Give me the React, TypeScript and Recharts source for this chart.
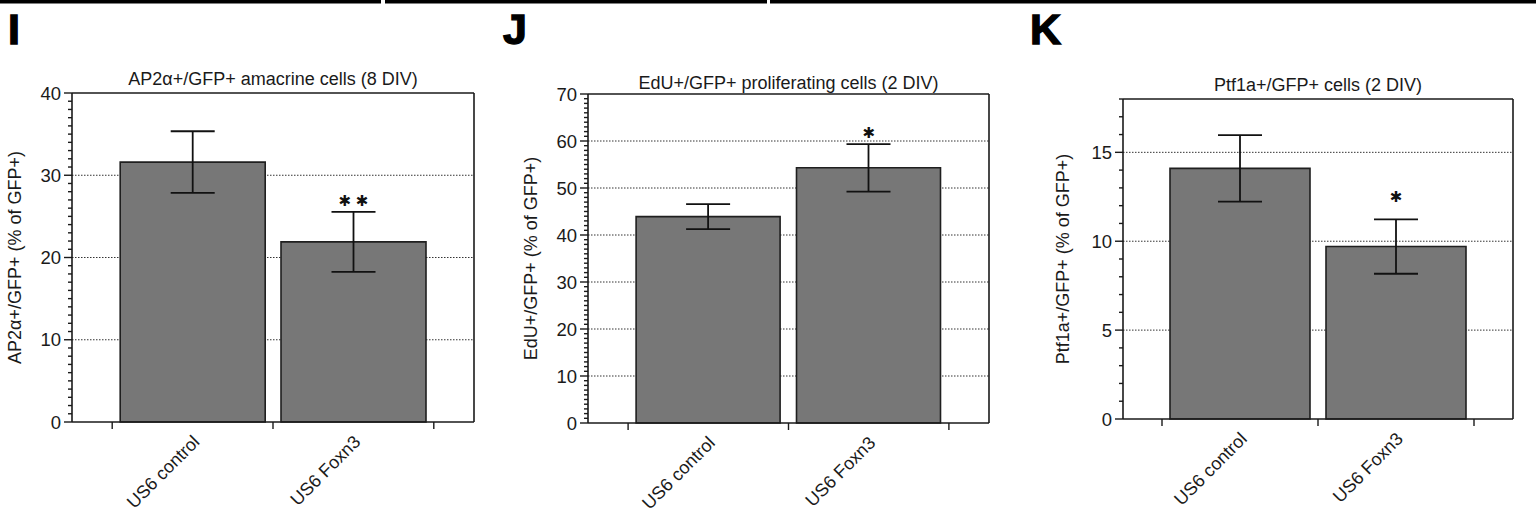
import React from 'react';
import { ComposedChart, Bar, XAxis, YAxis, CartesianGrid, ErrorBar, ReferenceLine, LabelList, Scatter } from 'recharts';

// shared categories, x positions of the two bars, and the boundary ticks between them
const categories = ['US6 control', 'US6 Foxn3'];
const categoryPos = [0.5, 1.5];
const boundaryTicks = [0, 1, 2];

// I - AP2a+/GFP+ amacrine cells (8 DIV)
const ap2Values = [31.6, 21.9];
const ap2Errors = [3.75, 3.65];
const ap2Majors = [0, 10, 20, 30, 40];
const ap2Stars = [{ x: 1.5, y: 27, label: '✱ ✱' }];

// J - EdU+/GFP+ proliferating cells (2 DIV)
const eduValues = [43.9, 54.3];
const eduErrors = [2.65, 5.05];
const eduMajors = [0, 10, 20, 30, 40, 50, 60, 70];
const eduStars = [{ x: 1.5, y: 61.8, label: '✱' }];

// K - Ptf1a+/GFP+ cells (2 DIV)
const ptfValues = [14.1, 9.7];
const ptfErrors = [1.87, 1.53];
const ptfMajors = [0, 5, 10, 15];
const ptfStars = [{ x: 1.5, y: 12.5, label: '✱' }];

const H = 529;
const X_AXIS_H = 30;
const INK = '#1a1a1a';

const unitTicks = (max: number) => Array.from({ length: max + 1 }, (_, i) => i);

const panels = [
  {
    key: 'I', left: 0, width: 500, plotTop: 93, plotBottom: 422, yWidth: 72, right: 26,
    max: 40, majors: ap2Majors, grid: [10, 20, 30], values: ap2Values, errors: ap2Errors, stars: ap2Stars,
    title: 'AP2α+/GFP+ amacrine cells (8 DIV)', titleOffset: 8,
    yLabel: 'AP2α+/GFP+ (% of GFP+)', labelX: 21, barSize: 145,
  },
  {
    key: 'J', left: 500, width: 520, plotTop: 94, plotBottom: 423, yWidth: 88, right: 31,
    max: 70, majors: eduMajors, grid: [10, 20, 30, 40, 50, 60], values: eduValues, errors: eduErrors, stars: eduStars,
    title: 'EdU+/GFP+ proliferating cells (2 DIV)', titleOffset: 5,
    yLabel: 'EdU+/GFP+ (% of GFP+)', labelX: 37, barSize: 144,
  },
  {
    key: 'K', left: 1020, width: 516, plotTop: 99, plotBottom: 419, yWidth: 103, right: 23,
    max: 18, majors: ptfMajors, grid: [5, 10, 15], values: ptfValues, errors: ptfErrors, stars: ptfStars,
    title: 'Ptf1a+/GFP+ cells (2 DIV)', titleOffset: 8,
    yLabel: 'Ptf1a+/GFP+ (% of GFP+)', labelX: 49, barSize: 140,
  },
];

const YTick = (props: any) => {
  const { x, y, payload, majors } = props;
  const isMajor = majors.includes(payload.value);
  return (
    <g>
      <line x1={x - (isMajor ? 8 : 4)} x2={x} y1={y} y2={y} stroke={INK} strokeWidth={1.4} />
      {isMajor && (
        <text x={x - 11} y={y} dy="0.36em" textAnchor="end" fontSize={18.5} fill={INK}>
          {payload.value}
        </text>
      )}
    </g>
  );
};

const XTick = (props: any) => {
  const { x, y } = props;
  return <line x1={x} x2={x} y1={y} y2={y + 7} stroke={INK} strokeWidth={1.4} />;
};

const CatLabel = (props: any) => {
  const box = props.viewBox && props.viewBox.width !== undefined ? props.viewBox : props;
  const ax = box.x + box.width / 2 + 8;
  const ay = box.y + box.height + 21;
  return (
    <text x={ax} y={ay} transform={`rotate(-45 ${ax} ${ay})`} textAnchor="end" fontSize={18} fill={INK}>
      {props.value}
    </text>
  );
};

const yLabel = (text: string, lx: number) => (props: any) => {
  const vb = props.viewBox;
  const cy = vb.y + vb.height / 2;
  return (
    <text x={lx} y={cy} transform={`rotate(-90 ${lx} ${cy})`} textAnchor="middle" fontSize={18} fill={INK}>
      {text}
    </text>
  );
};

const StarShape = (props: any) => (
  <text x={props.cx} y={props.cy} dy="0.38em" textAnchor="middle" fontSize={15}
    fontFamily="DejaVu Sans" fill="#111">
    {props.payload.label}
  </text>
);

function Panel({ cfg }: { cfg: any }) {
  const data = categories.map((name, i) => ({
    name,
    x: categoryPos[i],
    value: cfg.values[i],
    err: cfg.errors[i],
  }));
  return (
    <div style={{ position: 'absolute', left: cfg.left, top: 0 }}>
      <ComposedChart
        width={cfg.width}
        height={H}
        data={data}
        margin={{ top: cfg.plotTop, right: cfg.right, bottom: H - cfg.plotBottom - X_AXIS_H, left: 0 }}
      >
        <CartesianGrid vertical={false} horizontalValues={cfg.grid} stroke="#333" strokeDasharray="1.5 1.5" />
        <XAxis
          type="number"
          dataKey="x"
          domain={[-0.25, 2.25]}
          ticks={boundaryTicks}
          interval={0}
          height={X_AXIS_H}
          tickSize={0}
          tickMargin={0}
          tickLine={false}
          tick={XTick}
          axisLine={{ stroke: INK, strokeWidth: 1.6 }}
        />
        <YAxis
          type="number"
          domain={[0, cfg.max]}
          ticks={unitTicks(cfg.max)}
          interval={0}
          width={cfg.yWidth}
          tickSize={0}
          tickMargin={0}
          tickLine={false}
          tick={(p: any) => <YTick {...p} majors={cfg.majors} />}
          axisLine={{ stroke: INK, strokeWidth: 1.6 }}
          label={yLabel(cfg.yLabel, cfg.labelX)}
        />
        <ReferenceLine
          y={cfg.max}
          stroke={INK}
          strokeWidth={1.6}
          label={{ value: cfg.title, position: 'top', offset: cfg.titleOffset, fontSize: 18, fill: INK }}
        />
        <ReferenceLine x={2.25} stroke={INK} strokeWidth={1.6} />
        <Bar dataKey="value" barSize={cfg.barSize} fill="#777777" stroke="#1f1f1f" strokeWidth={1.6} isAnimationActive={false}>
          <ErrorBar dataKey="err" width={22} stroke="#111" strokeWidth={1.8} isAnimationActive={false} />
          <LabelList dataKey="name" content={CatLabel} />
        </Bar>
        <Scatter data={cfg.stars} dataKey="y" shape={StarShape} isAnimationActive={false} />
      </ComposedChart>
    </div>
  );
}

export default function App() {
  return (
    <div
      style={{
        position: 'absolute', left: 0, top: 0, width: 1536, height: H, background: '#fff',
        fontFamily: '"Liberation Sans", Arial, Helvetica, sans-serif', overflow: 'hidden',
      }}
    >
      <svg width={1536} height={H} style={{ position: 'absolute', left: 0, top: 0 }}>
        <rect x={0} y={0} width={381} height={3.5} fill="#000" />
        <rect x={385} y={0} width={382} height={3.5} fill="#000" />
        <rect x={770} y={0} width={766} height={3.5} fill="#000" />
        <g fontSize={43} fontWeight="bold" fill="#000" stroke="#000" strokeWidth={1.4}>
          <text x={8} y={44}>I</text>
          <text x={503} y={44}>J</text>
          <text x={1030} y={44}>K</text>
        </g>
      </svg>
      {panels.map((cfg) => (
        <Panel key={cfg.key} cfg={cfg} />
      ))}
    </div>
  );
}
